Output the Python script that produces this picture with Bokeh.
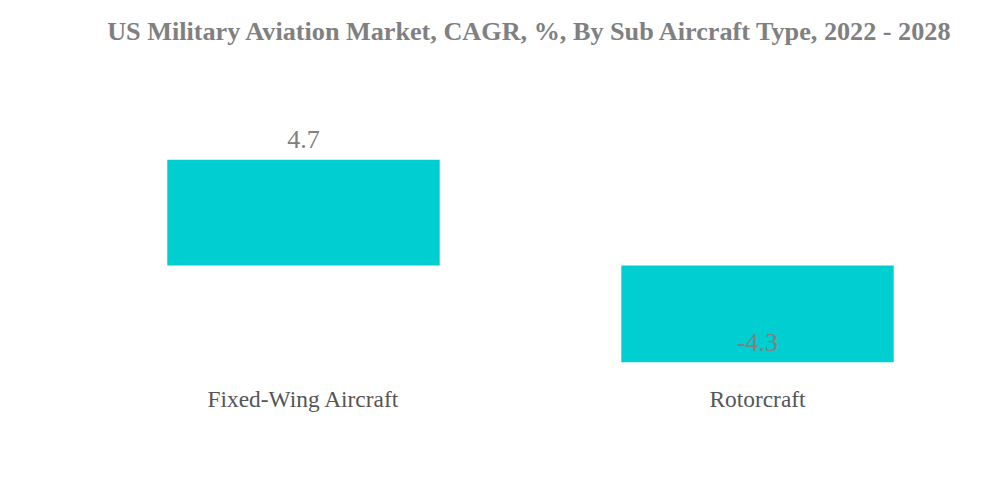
from bokeh.plotting import figure
from bokeh.models import ColumnDataSource, Range1d
from bokeh.core.properties import value
from bokeh.embed import file_html
from bokeh.resources import INLINE

categories = ["Fixed-Wing Aircraft", "Rotorcraft"]
cagr = [4.7, -4.3]
labels = ["4.7", "-4.3"]

src = ColumnDataSource(dict(cat=categories, val=cagr, lab=labels, zero=[0, 0]))

p = figure(x_range=categories, y_range=Range1d(-4.67, 9.11),
           width=984, height=467, frame_width=908, frame_height=310,
           output_backend="svg", toolbar_location=None,
           min_border_left=76, min_border_right=0, min_border_top=0, min_border_bottom=0,
           title="US Military Aviation Market, CAGR, %, By Sub Aircraft Type, 2022 - 2028")
p.title.align = "center"
p.title.text_font = "Liberation Serif"
p.title.text_font_size = "26.2px"
p.title.text_font_style = "bold"
p.title.text_color = "#808080"
p.title.standoff = 29

p.vbar(x="cat", bottom="zero", top="val", width=0.6, source=src,
       fill_color="#00CED1", line_color=None)
p.text(x="cat", y="val", text="lab", source=src, text_align="center",
       text_baseline="alphabetic", y_offset=-20,
       text_font=value("Liberation Serif"), text_font_size="26px", text_color="#808080")

p.outline_line_color = None
p.grid.visible = False
p.yaxis.visible = False
p.xaxis.axis_line_color = None
p.xaxis.major_tick_line_color = None
p.xaxis.minor_tick_line_color = None
p.xaxis.major_label_standoff = 9
p.xaxis.major_label_text_font = "Liberation Serif"
p.xaxis.major_label_text_font_size = "23.4px"
p.xaxis.major_label_text_color = "#555555"
p.x_range.range_padding = 0

open("out.html", "w").write(file_html(p, INLINE))
